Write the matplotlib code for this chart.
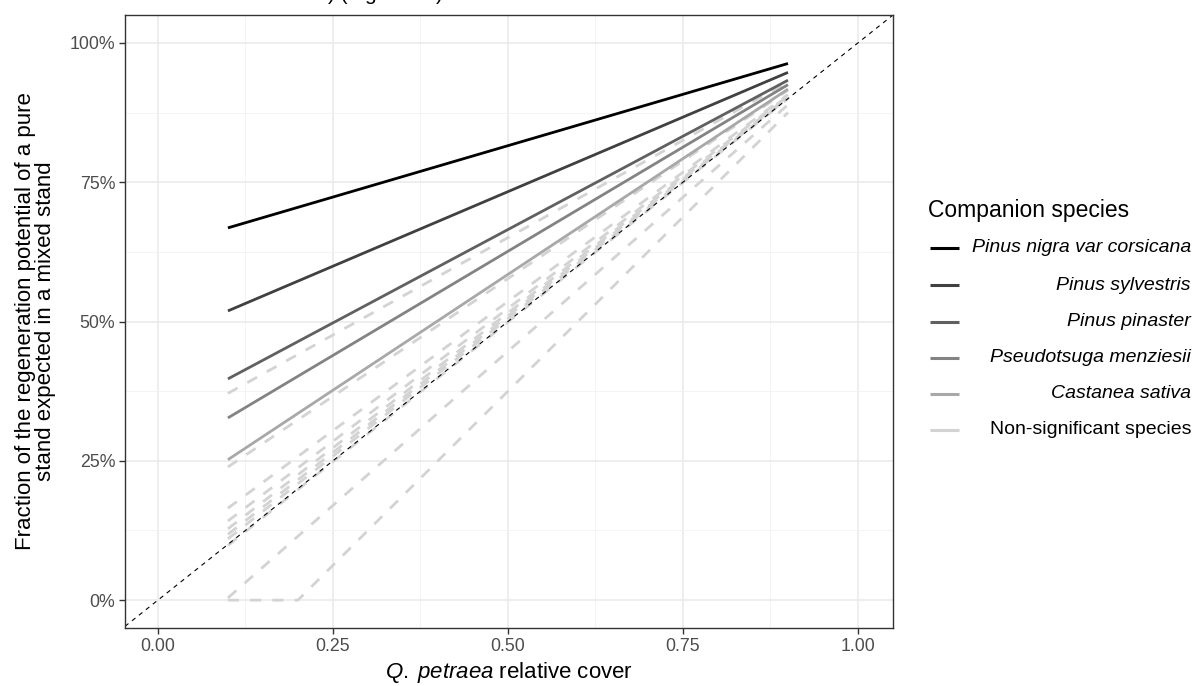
import numpy as np
import matplotlib
matplotlib.use("Agg")
import matplotlib.pyplot as plt
from matplotlib.ticker import PercentFormatter, MultipleLocator

plt.rcParams['font.family'] = ['Liberation Sans', 'DejaVu Sans']
plt.rcParams['mathtext.fontset'] = 'custom'
plt.rcParams['mathtext.rm'] = 'Liberation Sans'
plt.rcParams['mathtext.it'] = 'Liberation Sans:italic'

# significant companion species: predicted fraction at cover 0.1 and 0.9
sig_species = ["Pinus nigra var corsicana", "Pinus sylvestris", "Pinus pinaster",
               "Pseudotsuga menziesii", "Castanea sativa"]
sig_x = [0.1, 0.9]
sig_start = [0.668, 0.519, 0.397, 0.327, 0.252]
sig_end = [0.963, 0.947, 0.933, 0.925, 0.917]
sig_colors = ["#000000", "#404040", "#606060", "#838383", "#a8a8a8"]

# non-significant species (dashed)
ns_x = [[0.1, 0.9]] * 9 + [[0.1, 0.2, 0.9]]
ns_y = [[0.371, 0.930], [0.239, 0.915], [0.165, 0.907], [0.142, 0.905],
        [0.128, 0.903], [0.118, 0.902], [0.110, 0.901], [0.098, 0.900],
        [0.004, 0.889], [0.0, 0.0, 0.875]]
ns_color = "#d3d3d3"
ns_label = "Non-significant species"

x_ticks = [0, 0.25, 0.5, 0.75, 1.0]
y_ticks = [0, 0.25, 0.5, 0.75, 1.0]

W, H = 1195, 686
fig = plt.figure(figsize=(W / 100, H / 100), dpi=100)
ax = fig.add_axes([125 / W, 1 - 628 / H, (893 - 125) / W, (628 - 15) / H])

for xs, ys in zip(ns_x, ns_y):
    ax.plot(xs, ys, color=ns_color, lw=2.0, dashes=(4, 4), solid_capstyle='butt')

for s, y0, y1, c in zip(sig_species, sig_start, sig_end, sig_colors):
    ax.plot(sig_x, [y0, y1], color=c, lw=2.0, solid_capstyle='butt')

ax.axline((0, 0), slope=1, color="black", lw=0.8, dashes=(4, 4))

ax.set_xlim(-0.047, 1.05)
ax.set_ylim(-0.05, 1.05)
ax.set_xticks(x_ticks)
ax.set_yticks(y_ticks)
ax.xaxis.set_major_formatter(lambda v, p: f"{v:.2f}")
ax.yaxis.set_major_formatter(PercentFormatter(1.0, decimals=0))
ax.xaxis.set_minor_locator(MultipleLocator(0.125))
ax.yaxis.set_minor_locator(MultipleLocator(0.125))
ax.grid(which='major', color='#ebebeb', lw=1.2, zorder=0)
ax.grid(which='minor', color='#f2f2f2', lw=0.6, zorder=0)
ax.set_axisbelow(True)
ax.tick_params(which='minor', length=0)
ax.tick_params(which='major', length=4, width=1, color='#333333',
               labelcolor='#4d4d4d', labelsize=12.8, pad=3)
for sp in ax.spines.values():
    sp.set_color('#333333')
    sp.set_linewidth(1.0)

ax.set_xlabel(r"$\mathit{Q.\;petraea}$ relative cover", fontsize=16, labelpad=4)
ax.set_ylabel("Fraction of the regeneration potential of a pure\nstand expected in a mixed stand",
              fontsize=16, labelpad=10, linespacing=0.95)

# legend drawn in its own axes so the labels can be right aligned
lax = fig.add_axes([920 / W, 0, (W - 920) / W, 1])
lax.set_xlim(920, W)
lax.set_ylim(H, 0)
lax.axis('off')
lax.text(928, 210, "Companion species", fontsize=16.5, va='center', ha='left')
leg_labels = sig_species + [ns_label]
leg_colors = sig_colors + [ns_color]
rows = [248, 285, 322, 358, 394, 430]
for lab, c, yy in zip(leg_labels, leg_colors, rows):
    lax.plot([930, 959], [yy, yy], color=c, lw=2.2, solid_capstyle='butt')
    style = 'normal' if lab == ns_label else 'italic'
    lax.text(1191, yy, lab, fontsize=14, style=style, va='center', ha='right')

# caption fragment cut off at the top of the image
fig.text(328 / W, 1.0, ") (Figure 10)", fontsize=15, va='baseline', ha='left')

fig.savefig("out.png", dpi=100)
